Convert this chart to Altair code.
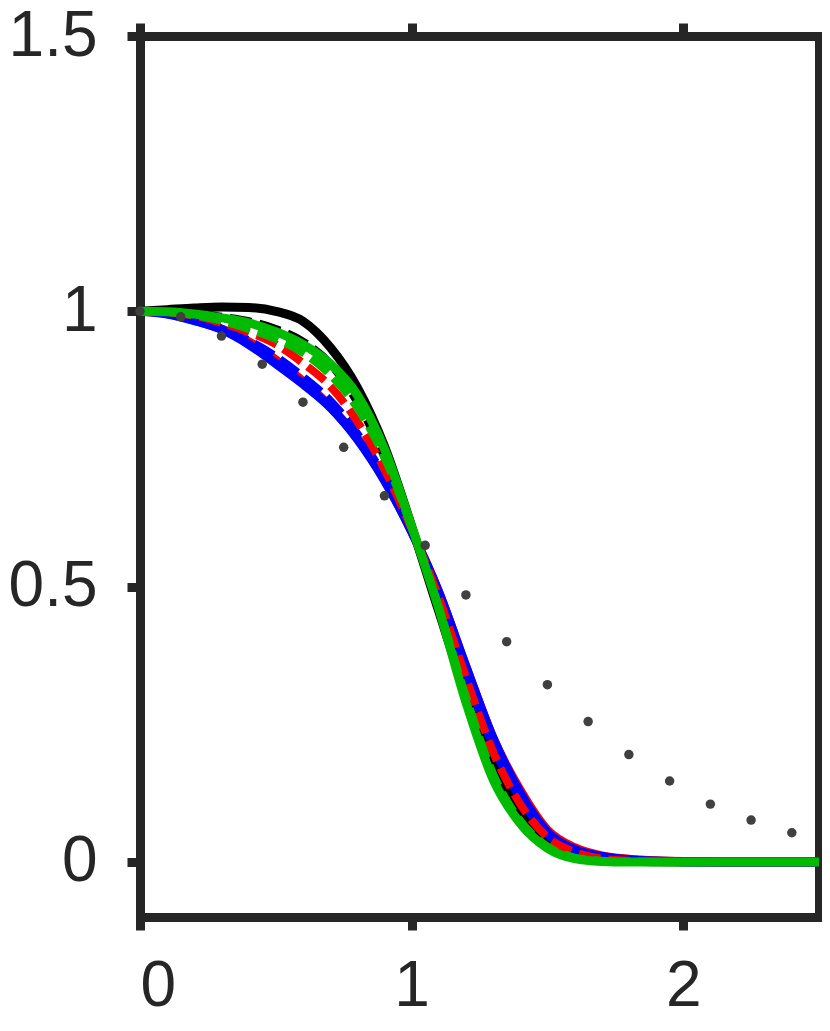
import altair as alt
import pandas as pd

# shared x grid for the model curves
x_grid = [0.0, 0.1, 0.2, 0.3, 0.4, 0.5, 0.6, 0.7, 0.8, 0.9, 1.0, 1.1, 1.2,
          1.3, 1.4, 1.5, 1.6, 1.7, 1.8, 1.9, 2.0, 2.2, 2.5]

black_solid = [1.0, 1.003, 1.006, 1.008, 1.007, 1.0, 0.982, 0.935, 0.862, 0.755, 0.61, 0.455,
               0.305, 0.18, 0.092, 0.04, 0.015, 0.005, 0.0015, 0.0004, 0.0, 0.0, 0.0]
black_dashed = [1.0, 0.999, 0.996, 0.99, 0.982, 0.968, 0.945, 0.905, 0.835, 0.735, 0.605, 0.465,
                0.32, 0.19, 0.1, 0.043, 0.016, 0.005, 0.0015, 0.0004, 0.0, 0.0, 0.0]
red_solid = [1.0, 0.996, 0.984, 0.968, 0.945, 0.912, 0.873, 0.827, 0.77, 0.695, 0.6, 0.49,
             0.355, 0.225, 0.13, 0.058, 0.026, 0.011, 0.005, 0.002, 0.0006, 0.0, 0.0]
red_dashed = [1.0, 0.998, 0.992, 0.979, 0.962, 0.94, 0.906, 0.864, 0.8, 0.713, 0.605, 0.48,
              0.335, 0.2, 0.105, 0.045, 0.018, 0.006, 0.002, 0.0005, 0.0, 0.0, 0.0]
blue_solid = [1.0, 0.995, 0.983, 0.967, 0.94, 0.905, 0.868, 0.826, 0.768, 0.693, 0.6, 0.49,
              0.355, 0.225, 0.125, 0.054, 0.023, 0.01, 0.004, 0.0015, 0.0005, 0.0, 0.0]
blue_dashed = [1.0, 0.996, 0.985, 0.969, 0.947, 0.918, 0.881, 0.838, 0.778, 0.699, 0.602, 0.485,
               0.34, 0.21, 0.115, 0.05, 0.02, 0.008, 0.003, 0.001, 0.0, 0.0, 0.0]
green_solid = [1.0, 0.999, 0.995, 0.988, 0.979, 0.963, 0.94, 0.905, 0.848, 0.75, 0.61, 0.46,
               0.29, 0.15, 0.07, 0.025, 0.006, 0.001, 0.0, 0.0, 0.0, 0.0, 0.0]
green_dashed = [1.0, 0.999, 0.993, 0.983, 0.968, 0.95, 0.925, 0.885, 0.825, 0.735, 0.607, 0.462,
                0.3, 0.16, 0.075, 0.028, 0.008, 0.002, 0.0, 0.0, 0.0, 0.0, 0.0]

# sampled reference points (gray dots)
dot_x = [0.0, 0.15, 0.3, 0.45, 0.6, 0.75, 0.9, 1.05, 1.2, 1.35, 1.5, 1.65, 1.8,
         1.95, 2.1, 2.25, 2.4]
dot_y = [1.0, 0.99, 0.955, 0.904, 0.835, 0.753, 0.665, 0.575, 0.485, 0.4, 0.322,
         0.255, 0.195, 0.147, 0.105, 0.076, 0.053]

x_ticks = [0, 1, 2]
y_ticks = [0, 0.5, 1, 1.5]

series = [
    ("black solid", black_solid, "#000000", False),
    ("black dashed", black_dashed, "#000000", True),
    ("red solid", red_solid, "#ff0000", False),
    ("blue solid", blue_solid, "#0000ff", False),
    ("blue dashed", blue_dashed, "#0000ff", True),
    ("red dashed", red_dashed, "#ff0000", True),
    ("green solid", green_solid, "#00bb00", False),
    ("green dashed", green_dashed, "#00bb00", True),
]

FONT = "Liberation Sans"
AX = "#262626"
xscale = alt.Scale(domain=[0, 2.5], nice=False, zero=False)
yscale = alt.Scale(domain=[-0.1, 1.5], nice=False, zero=False)

common_axis = dict(domainColor=AX, domainWidth=9, tickColor=AX, tickWidth=9,
                   tickSize=13, grid=False, title=None, labelFont=FONT,
                   labelFontSize=64, labelColor=AX, domainCap="square")

layers = []
for i, (name, vals, color, dashed) in enumerate(series):
    df = pd.DataFrame({"x": x_grid, "y": vals, "order": list(range(len(x_grid)))})
    mark_kwargs = dict(color=color, strokeWidth=9 if not dashed else 8,
                       interpolate="monotone", clip=True)
    if dashed:
        mark_kwargs["strokeDash"] = [22, 8]
    if i == 0:
        xenc = alt.X("x:Q", scale=xscale,
                     axis=alt.Axis(orient="bottom", values=x_ticks, labelPadding=24,
                                   format="~g", **common_axis))
        yenc = alt.Y("y:Q", scale=yscale,
                     axis=alt.Axis(orient="left", values=y_ticks, labelPadding=30,
                                   format="~g", **common_axis))
    else:
        xenc = alt.X("x:Q", scale=xscale, axis=None)
        yenc = alt.Y("y:Q", scale=yscale, axis=None)
    layers.append(alt.Chart(df).mark_line(**mark_kwargs).encode(x=xenc, y=yenc, order="order:Q"))

dots_df = pd.DataFrame({"x": dot_x, "y": dot_y})
dots = alt.Chart(dots_df).mark_circle(size=90, color="#404040", opacity=1).encode(
    x=alt.X("x:Q", scale=xscale,
            axis=alt.Axis(orient="top", values=x_ticks, labels=False, **common_axis)),
    y=alt.Y("y:Q", scale=yscale,
            axis=alt.Axis(orient="right", values=y_ticks, labels=False, **common_axis)),
)
layers.append(dots)

chart = alt.layer(*layers).resolve_axis(x="independent", y="independent").properties(
    width=679, height=881,
    padding={"left": 132, "top": 28, "right": 3, "bottom": 104},
    autosize=alt.AutoSizeParams(type="none"),
).configure_view(stroke=None).configure(background="white")

chart.save("out.html", embed_options={"renderer": "svg", "actions": False})
